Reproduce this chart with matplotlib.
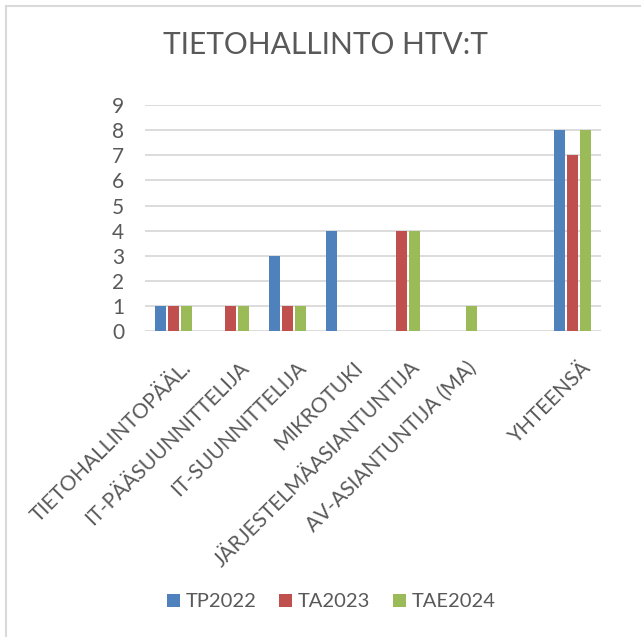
import matplotlib
matplotlib.use("Agg")
import matplotlib.pyplot as plt
import matplotlib.transforms as mtransforms
import numpy as np

# chart data
categories = [
    "TIETOHALLINTOPÄÄL.",
    "IT-PÄÄSUUNNITTELIJA",
    "IT-SUUNNITTELIJA",
    "MIKROTUKI",
    "JÄRJESTELMÄASIANTUNTIJA",
    "AV-ASIANTUNTIJA (MA)",
    "",
    "YHTEENSÄ",
]
series_names = ["TP2022", "TA2023", "TAE2024"]
tp2022 = [1, 0, 3, 4, 0, 0, 0, 8]
ta2023 = [1, 1, 1, 0, 4, 0, 0, 7]
tae2024 = [1, 1, 1, 0, 4, 1, 0, 8]
yticks = list(range(0, 10))

colors = ["#4F81BD", "#C0504D", "#9BBB59"]
text_color = "#595959"
grid_color = "#D9D9D9"

plt.rcParams["font.family"] = ["Lato", "DejaVu Sans"]

fig = plt.figure(figsize=(6.41, 6.37), dpi=100)
ax = fig.add_axes([0.226, 0.480, 0.712, 0.355])

x = np.arange(len(categories))
step = 0.228
width = 0.19
for i, (name, vals) in enumerate(zip(series_names, [tp2022, ta2023, tae2024])):
    ax.bar(x + (i - 1) * step, vals, width=width, color=colors[i],
           label=name, zorder=3)

ax.set_xlim(-0.5, len(categories) - 0.5)
ax.set_ylim(0, 9)
ax.set_yticks(yticks)
ax.yaxis.grid(True, color=grid_color, linewidth=1.3, zorder=0)
for s in ax.spines.values():
    s.set_visible(False)
ax.tick_params(axis="both", length=0, labelsize=15, colors=text_color)
ax.tick_params(axis="y", pad=15)

ax.set_xticks(x)
ax.set_xticklabels(categories, rotation=45, ha="right", va="top",
                   rotation_mode="anchor")
ax.tick_params(axis="x", pad=19)
offset = mtransforms.ScaledTranslation(8 / 100, 0, fig.dpi_scale_trans)
for lab in ax.get_xticklabels():
    lab.set_transform(lab.get_transform() + offset)

fig.text(0.507, 0.929, "TIETOHALLINTO HTV:T", ha="center", va="center",
         fontsize=21.5, color=text_color)

leg = fig.legend(loc="center", bbox_to_anchor=(0.517, 0.055), ncol=3,
                 frameon=False, fontsize=14.5, handlelength=0.65,
                 handleheight=0.65, handletextpad=0.3, columnspacing=1.1)
for t in leg.get_texts():
    t.set_color(text_color)

# outer chart border
fig.add_artist(plt.Line2D([6 / 641, 1], [1 - 6 / 637, 1 - 6 / 637],
                          color=grid_color, linewidth=1.5))
fig.add_artist(plt.Line2D([6 / 641, 6 / 641], [0, 1 - 6 / 637],
                          color=grid_color, linewidth=1.5))

fig.savefig("out.png", dpi=100)
